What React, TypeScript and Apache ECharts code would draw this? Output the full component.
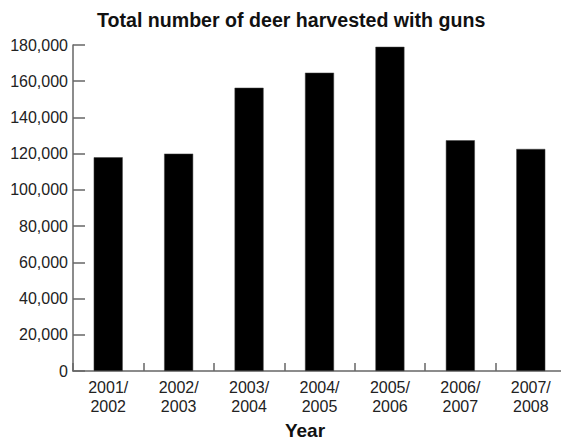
import React, { useEffect, useRef } from "react";
import * as echarts from "echarts";

const categories = ["2001/\n2002", "2002/\n2003", "2003/\n2004", "2004/\n2005", "2005/\n2006", "2006/\n2007", "2007/\n2008"];
const harvested = [118000, 120000, 156400, 164700, 179000, 127400, 122600];
const chartTitle = "Total number of deer harvested with guns";
const xAxisName = "Year";

const FONT = "'Liberation Sans', Arial, Helvetica, sans-serif";

export default function App() {
  const ref = useRef<HTMLDivElement>(null);
  useEffect(() => {
    if (!ref.current) return;
    const chart = echarts.init(ref.current, null, { renderer: "svg" });
    chart.setOption({
      animation: false,
      backgroundColor: "#ffffff",
      title: {
        text: chartTitle,
        left: 97,
        top: 10,
        padding: 0,
        textStyle: { fontFamily: FONT, fontSize: 19.6, fontWeight: "bold", color: "#111" },
      },
      grid: { left: 73, right: -5, top: 45, bottom: 70, outerBoundsMode: "none", containLabel: false },
      xAxis: {
        type: "category",
        data: categories,
        boundaryGap: true,
        name: xAxisName,
        nameLocation: "middle",
        nameGap: 45,
        nameTextStyle: {
          fontFamily: FONT,
          fontSize: 19,
          lineHeight: 20,
          fontWeight: "bold",
          color: "#111",
          padding: [0, 29, 0, 0],
        },
        axisLine: { show: true, lineStyle: { color: "#666", width: 1.5 } },
        axisTick: { show: true, inside: true, length: 8, lineStyle: { color: "#666", width: 1.5 } },
        axisLabel: {
          fontFamily: FONT,
          fontSize: 16,
          lineHeight: 19,
          color: "#222",
          margin: 7,
          interval: 0,
        },
        splitLine: { show: false },
      },
      yAxis: {
        type: "value",
        min: 0,
        max: 180000,
        interval: 20000,
        axisLine: { show: true, lineStyle: { color: "#666", width: 1.5 } },
        axisTick: { show: true, inside: true, length: 12, lineStyle: { color: "#666", width: 1.5 } },
        axisLabel: {
          fontFamily: FONT,
          fontSize: 16,
          color: "#222",
          margin: 5,
          formatter: (v: number) => v.toLocaleString("en-US"),
        },
        splitLine: { show: false },
      },
      series: [
        {
          type: "bar",
          data: harvested,
          barWidth: 29,
          itemStyle: { color: "#000", borderColor: "#444", borderWidth: 0.5 },
        },
      ],
    });
    return () => chart.dispose();
  }, []);
  return (
    <div
      ref={ref}
      style={{ position: "fixed", left: 0, top: 0, width: 561, height: 441 }}
    />
  );
}
